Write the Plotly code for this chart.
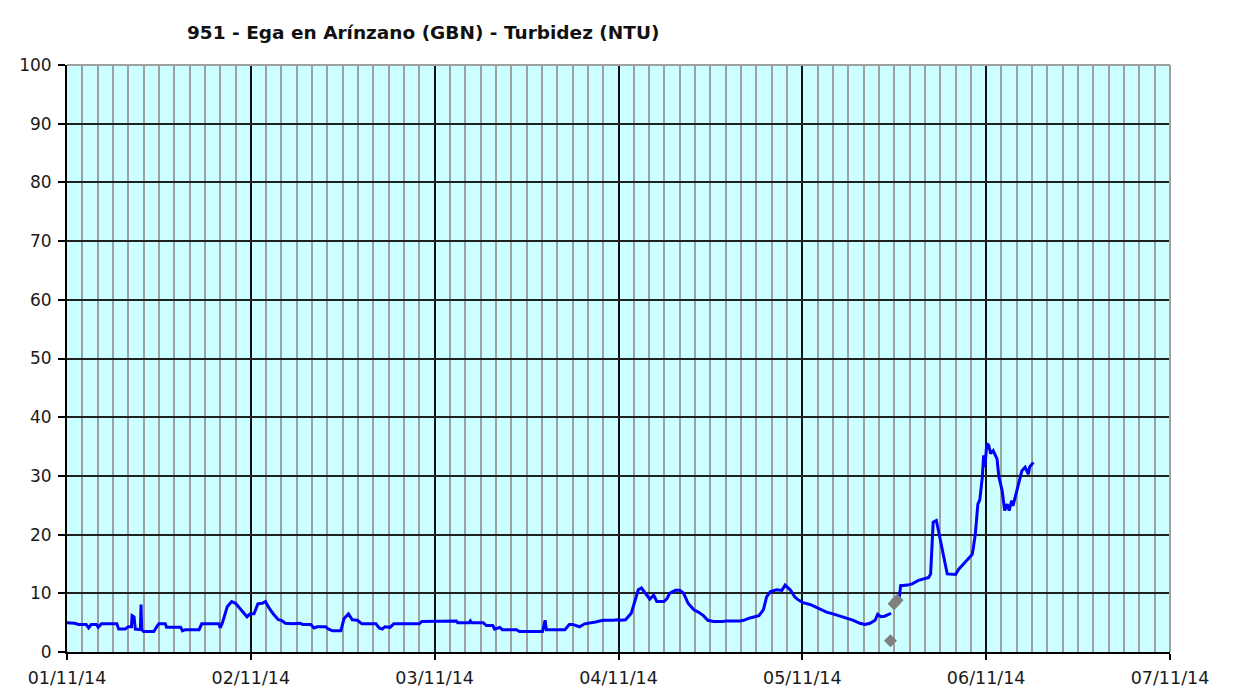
import plotly.graph_objects as go
import pandas as pd

# Turbidity series (blue), segment 1 and segment 2 separated by a gap
turb_times_1 = [
    "2014-11-01 00:00", "2014-11-01 01:00", "2014-11-01 01:30", "2014-11-01 02:30", "2014-11-01 02:50",
    "2014-11-01 03:10", "2014-11-01 03:50", "2014-11-01 04:05", "2014-11-01 04:30", "2014-11-01 06:30",
    "2014-11-01 06:45", "2014-11-01 07:35", "2014-11-01 08:00", "2014-11-01 08:25", "2014-11-01 08:30",
    "2014-11-01 08:45", "2014-11-01 08:55", "2014-11-01 09:35", "2014-11-01 09:40", "2014-11-01 09:45",
    "2014-11-01 10:00", "2014-11-01 11:20", "2014-11-01 11:40", "2014-11-01 12:00", "2014-11-01 12:50",
    "2014-11-01 13:00", "2014-11-01 14:50", "2014-11-01 15:05", "2014-11-01 15:25", "2014-11-01 17:15",
    "2014-11-01 17:35", "2014-11-01 19:50", "2014-11-01 20:00", "2014-11-01 20:15", "2014-11-01 20:55",
    "2014-11-01 21:30", "2014-11-01 22:00", "2014-11-01 22:35", "2014-11-01 23:15", "2014-11-01 23:30",
    "2014-11-01 23:55",
    "2014-11-02 00:25", "2014-11-02 00:55", "2014-11-02 01:30", "2014-11-02 01:55", "2014-11-02 02:20",
    "2014-11-02 02:55", "2014-11-02 03:35", "2014-11-02 04:00", "2014-11-02 04:30", "2014-11-02 05:30",
    "2014-11-02 06:30", "2014-11-02 06:45", "2014-11-02 07:50", "2014-11-02 08:15", "2014-11-02 08:40",
    "2014-11-02 09:45", "2014-11-02 10:10", "2014-11-02 10:40", "2014-11-02 11:45", "2014-11-02 12:10",
    "2014-11-02 12:45", "2014-11-02 13:15", "2014-11-02 13:55", "2014-11-02 14:30", "2014-11-02 16:20",
    "2014-11-02 16:45", "2014-11-02 17:10", "2014-11-02 17:30", "2014-11-02 18:10", "2014-11-02 18:40",
    "2014-11-02 22:00", "2014-11-02 22:20",
    "2014-11-03 00:00", "2014-11-03 00:40", "2014-11-03 02:50", "2014-11-03 03:00", "2014-11-03 04:30",
    "2014-11-03 04:40", "2014-11-03 04:50", "2014-11-03 06:20", "2014-11-03 06:45", "2014-11-03 07:35",
    "2014-11-03 07:50", "2014-11-03 08:30", "2014-11-03 08:50", "2014-11-03 10:40", "2014-11-03 11:05",
    "2014-11-03 14:05", "2014-11-03 14:25", "2014-11-03 14:35", "2014-11-03 17:00", "2014-11-03 17:35",
    "2014-11-03 18:00", "2014-11-03 18:55", "2014-11-03 19:35", "2014-11-03 21:00", "2014-11-03 22:00",
    "2014-11-03 23:20", "2014-11-03 23:55",
    "2014-11-04 00:20", "2014-11-04 00:55", "2014-11-04 01:40", "2014-11-04 02:10", "2014-11-04 02:35",
    "2014-11-04 03:00", "2014-11-04 03:30", "2014-11-04 03:55", "2014-11-04 04:05", "2014-11-04 04:35",
    "2014-11-04 05:00", "2014-11-04 05:55", "2014-11-04 06:20", "2014-11-04 06:40", "2014-11-04 07:25",
    "2014-11-04 08:00", "2014-11-04 08:30", "2014-11-04 09:05", "2014-11-04 09:50", "2014-11-04 10:25",
    "2014-11-04 11:05", "2014-11-04 11:40", "2014-11-04 12:25", "2014-11-04 13:40", "2014-11-04 14:05",
    "2014-11-04 15:55", "2014-11-04 16:20", "2014-11-04 17:10", "2014-11-04 18:20", "2014-11-04 18:55",
    "2014-11-04 19:20", "2014-11-04 19:50", "2014-11-04 20:40", "2014-11-04 21:20", "2014-11-04 21:45",
    "2014-11-04 22:25", "2014-11-04 23:00", "2014-11-04 23:20",
    "2014-11-05 00:05", "2014-11-05 01:00", "2014-11-05 01:55", "2014-11-05 02:30", "2014-11-05 03:10",
    "2014-11-05 04:00", "2014-11-05 04:55", "2014-11-05 05:50", "2014-11-05 06:40", "2014-11-05 07:30",
    "2014-11-05 08:10", "2014-11-05 08:50", "2014-11-05 09:30", "2014-11-05 09:50", "2014-11-05 10:15",
    "2014-11-05 10:45", "2014-11-05 11:25", "2014-11-05 11:35",
]
turb_values_1 = [
    5.0, 4.9, 4.7, 4.7, 4.1,
    4.7, 4.7, 4.2, 4.8, 4.8,
    3.9, 3.9, 4.3, 4.3, 6.2,
    6.0, 3.9, 3.8, 8.1, 3.8,
    3.5, 3.5, 4.2, 4.8, 4.8,
    4.2, 4.2, 3.6, 3.8, 3.8,
    4.8, 4.8, 4.1, 4.8, 7.7,
    8.6, 8.3, 7.4, 6.2, 6.0,
    6.5,
    6.5, 8.2, 8.3, 8.6, 7.6,
    6.5, 5.5, 5.4, 4.9, 4.8,
    4.9, 4.7, 4.7, 4.1, 4.3,
    4.3, 3.9, 3.6, 3.6, 5.7,
    6.5, 5.5, 5.4, 4.8, 4.8,
    4.1, 3.9, 4.3, 4.2, 4.8,
    4.8, 5.2,
    5.2, 5.3, 5.3, 5.0, 5.0,
    5.3, 5.0, 5.0, 4.5, 4.5,
    3.9, 4.2, 3.8, 3.8, 3.5,
    3.5, 5.4, 3.8, 3.8, 4.7,
    4.7, 4.3, 4.8, 5.1, 5.4,
    5.4, 5.5,
    5.4, 5.5, 6.6, 8.6, 10.6,
    10.9, 10.1, 9.4, 9.0, 9.7,
    8.6, 8.6, 9.1, 10.0, 10.5,
    10.5, 10.0, 8.3, 7.2, 6.8,
    6.2, 5.4, 5.2, 5.2, 5.3,
    5.3, 5.4, 5.8, 6.2, 7.2,
    9.4, 10.3, 10.6, 10.5, 11.4,
    10.6, 9.4, 9.0,
    8.4, 8.1, 7.6, 7.2, 6.8,
    6.5, 6.1, 5.7, 5.4, 4.9,
    4.7, 4.9, 5.4, 6.4, 6.0,
    6.1, 6.5, 6.6,
]

turb_times_2 = [
    "2014-11-05 12:40", "2014-11-05 12:50", "2014-11-05 13:45", "2014-11-05 14:20", "2014-11-05 15:10",
    "2014-11-05 15:50", "2014-11-05 16:30", "2014-11-05 16:45", "2014-11-05 17:05", "2014-11-05 17:30",
    "2014-11-05 17:50", "2014-11-05 18:15", "2014-11-05 18:55", "2014-11-05 20:00", "2014-11-05 20:25",
    "2014-11-05 21:15", "2014-11-05 22:10", "2014-11-05 22:20", "2014-11-05 22:35", "2014-11-05 22:55",
    "2014-11-05 23:10", "2014-11-05 23:30", "2014-11-05 23:40", "2014-11-05 23:50",
    "2014-11-06 00:05", "2014-11-06 00:20", "2014-11-06 00:35", "2014-11-06 00:55", "2014-11-06 01:25",
    "2014-11-06 01:40", "2014-11-06 02:05", "2014-11-06 02:25", "2014-11-06 02:45", "2014-11-06 03:00",
    "2014-11-06 03:20", "2014-11-06 03:30", "2014-11-06 03:50", "2014-11-06 04:15", "2014-11-06 04:40",
    "2014-11-06 05:05", "2014-11-06 05:30", "2014-11-06 05:40", "2014-11-06 06:10",
]
turb_values_2 = [
    9.3, 11.3, 11.4, 11.6, 12.2,
    12.4, 12.7, 13.3, 22.1, 22.4,
    20.4, 17.3, 13.3, 13.2, 14.1,
    15.3, 16.6, 17.8, 20.1, 25.2,
    25.9, 29.8, 33.5, 31.5,
    35.5, 35.2, 33.8, 34.3, 32.9,
    29.8, 27.5, 24.1, 25.2, 24.1,
    25.8, 24.9, 26.6, 28.4, 30.9,
    31.5, 30.3, 31.5, 32.3,
]

# Grey isolated points
grey_times = ["2014-11-05 11:30", "2014-11-05 11:58", "2014-11-05 12:22"]
grey_values = [1.9, 8.2, 8.8]

title_text = "951 - Ega en Arínzano (GBN) - Turbidez (NTU)"
x_start, x_end = "2014-11-01", "2014-11-07"
y_min, y_max, y_step = 0, 100, 10

line_x = pd.to_datetime(turb_times_1).tolist() + [None] + pd.to_datetime(turb_times_2).tolist()
line_y = turb_values_1 + [None] + turb_values_2

fig = go.Figure()
fig.add_trace(go.Scatter(
    x=line_x, y=line_y, mode="lines", connectgaps=False,
    line=dict(color="#0000FF", width=3), showlegend=False,
))
fig.add_trace(go.Scatter(
    x=pd.to_datetime(grey_times), y=grey_values, mode="markers",
    marker=dict(symbol="diamond", size=10, color="#808080"), showlegend=False,
))

W, H = 1246, 691
font_family = "DejaVu Sans"
fig.update_layout(
    width=W, height=H,
    margin=dict(l=67, r=W - 1170, t=65, b=H - 652, autoexpand=False),
    paper_bgcolor="white", plot_bgcolor="#CCFFFF",
    title=dict(text="<b>" + title_text + "</b>", x=187 / W, xanchor="left", xref="container",
               y=1 - 33 / H, yanchor="middle", yref="container",
               font=dict(family=font_family, size=18.5, color="#111111")),
    font=dict(family=font_family, size=17, color="#1a1a1a"),
    showlegend=False,
)
fig.update_xaxes(
    type="date", range=[x_start, x_end], automargin=False,
    dtick=86400000, tick0=x_start, tickformat="%d/%m/%y",
    tickfont=dict(size=17.5),
    showgrid=True, gridcolor="#111111", gridwidth=2,
    minor=dict(dtick=7200000, tick0=x_start, showgrid=True, gridcolor="#A0A0A0", gridwidth=2),
    ticks="outside", ticklen=6, tickcolor="black", tickwidth=2, ticklabelstandoff=3,
    showline=True, linecolor="black", linewidth=2, zeroline=False,
)
fig.update_yaxes(
    range=[y_min, y_max], dtick=y_step, tick0=0, automargin=False,
    tickfont=dict(size=17),
    showgrid=True, gridcolor="#222222", gridwidth=2,
    ticks="outside", ticklen=7, tickcolor="black", tickwidth=2, ticklabelstandoff=3,
    showline=True, linecolor="black", linewidth=2, zeroline=False,
)
# grey plot-area border on top and right
fig.add_shape(type="line", xref="paper", yref="paper", x0=0, x1=1, y0=1, y1=1,
              line=dict(color="#A0A0A0", width=2), layer="above")
fig.add_shape(type="line", xref="paper", yref="paper", x0=1, x1=1, y0=0, y1=1,
              line=dict(color="#A0A0A0", width=2), layer="above")

# place the figure at the page's top-left corner (remove the default body margin)
fig.write_html("out.html",
               config={"displayModeBar": False},
               post_script="document.body.style.margin='0';document.body.style.overflow='hidden';")
